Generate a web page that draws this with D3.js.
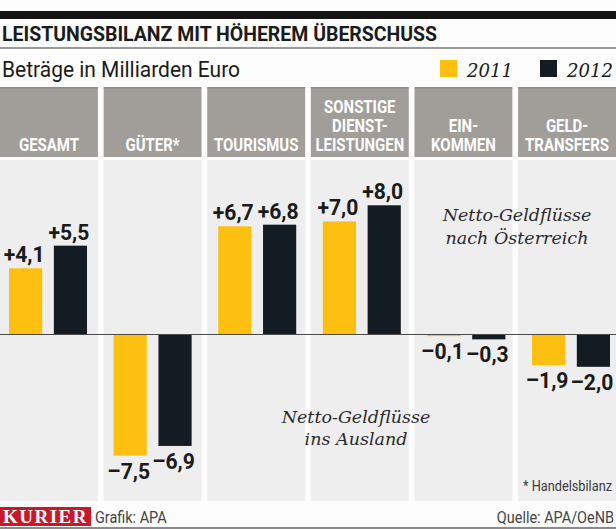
<!DOCTYPE html>
<html>
<head>
<meta charset="utf-8">
<script src="https://cdn.jsdelivr.net/npm/d3@7"></script>
<style>
  html, body { margin: 0; padding: 0; background: #fdfdfd; }
  svg { display: block; }
  .cond { font-family: "Roboto", "Liberation Sans", sans-serif; }
  .serif-it { font-family: "DejaVu Serif", "Liberation Serif", serif; font-style: italic; }
</style>
</head>
<body>
<div id="chart"></div>
<script>
// ---------- DATA ----------
const title = "LEISTUNGSBILANZ MIT HÖHEREM ÜBERSCHUSS";
const subtitle = "Beträge in Milliarden Euro";
const categories = ["GESAMT", "GÜTER*", "TOURISMUS", "SONSTIGE\nDIENST-\nLEISTUNGEN", "EIN-\nKOMMEN", "GELD-\nTRANSFERS"];
const seriesNames = ["2011", "2012"];
const values2011 = [4.1, -7.5, 6.7, 7.0, -0.1, -1.9];
const values2012 = [5.5, -6.9, 6.8, 8.0, -0.3, -2.0];
const annotationIn = ["Netto-Geldflüsse", "nach Österreich"];
const annotationOut = ["Netto-Geldflüsse", "ins Ausland"];
const footnote = "* Handelsbilanz";
const brand = "KURIER";
const credit = "Grafik: APA";
const source = "Quelle: APA/OeNB";

// ---------- STYLE ----------
const W = 616, H = 529;
const colors = { "2011": "#fdc010", "2012": "#121c22" };
const headerGray = "#a19e99";
const panelBg = "#efeeef";
const textDark = "#1b1b1b";

const svg = d3.select("#chart").append("svg").attr("width", W).attr("height", H);
svg.append("rect").attr("width", W).attr("height", H).attr("fill", "#fdfdfd");

// helper: horizontally condensed text
function condText(parent, x, y, str, o) {
  const g = parent.append("g").attr("transform", `translate(${x},${y}) scale(${o.sx || 0.85},1)`);
  return g.append("text").attr("class", "cond").attr("x", 0).attr("y", 0)
    .attr("text-anchor", o.anchor || "start").attr("font-size", o.size)
    .attr("font-weight", o.weight || "normal").attr("fill", o.fill || textDark).text(str);
}

// top rule + title
svg.append("rect").attr("x", 0).attr("y", 11).attr("width", W).attr("height", 8).attr("fill", "#151515");
svg.append("text").attr("class", "cond").attr("x", 2).attr("y", 41)
  .attr("font-size", 21).attr("font-weight", "bold").attr("fill", textDark)
  .attr("textLength", 435).attr("lengthAdjust", "spacingAndGlyphs").text(title);
svg.append("rect").attr("x", 0).attr("y", 47).attr("width", W).attr("height", 2).attr("fill", "#9a9a9a");
svg.append("text").attr("class", "cond").attr("x", 2).attr("y", 77)
  .attr("font-size", 22).attr("fill", textDark)
  .attr("textLength", 238).attr("lengthAdjust", "spacingAndGlyphs").text(subtitle);

// legend
const legX = d3.scalePoint().domain(seriesNames).range([440, 540]);
const leg = svg.append("g").selectAll("g").data(seriesNames).join("g")
  .attr("transform", d => `translate(${legX(d)},0)`);
leg.append("rect").attr("x", 0).attr("y", 60).attr("width", 17).attr("height", 17).attr("fill", d => colors[d]);
leg.append("text").attr("class", "serif-it").attr("x", 27).attr("y", 77)
  .attr("font-size", 19).attr("fill", textDark)
  .attr("textLength", 46).attr("lengthAdjust", "spacingAndGlyphs").text(d => d);

// ---------- SCALES ----------
const panelX = d3.scaleBand().domain(categories).range([0, W]).paddingInner(0.055).paddingOuter(0);
const groupX = d3.scaleBand().domain(categories).range([9, 610]).paddingInner(0.254).paddingOuter(0);
const barX = d3.scaleBand().domain(seriesNames).range([0, groupX.bandwidth()]).paddingInner(0.26).paddingOuter(0);
const y = d3.scaleLinear().domain([-8, 8]).range([463.7, 205.3]);

// panels
const panels = svg.append("g").selectAll("g").data(categories).join("g")
  .attr("transform", d => `translate(${panelX(d)},0)`);
panels.append("rect").attr("x", 0).attr("y", 160).attr("width", panelX.bandwidth()).attr("height", 341).attr("fill", panelBg);
panels.append("rect").attr("x", 0).attr("y", 88).attr("width", panelX.bandwidth()).attr("height", 69).attr("fill", headerGray);
panels.append("rect").attr("x", 0).attr("y", 87).attr("width", panelX.bandwidth()).attr("height", 1.5).attr("fill", "#8e8b86");
panels.each(function(d) {
  const lines = d.split("\n");
  const sel = d3.select(this);
  lines.forEach((ln, i) => {
    condText(sel, panelX.bandwidth() / 2, 150.5 - (lines.length - 1 - i) * 18.7, ln,
      { size: 18, weight: "bold", anchor: "middle", fill: "#ffffff", sx: 0.83 });
  });
});

// bars
const rows = categories.map((c, i) => ({ cat: c, vals: [
  { s: "2011", v: values2011[i] }, { s: "2012", v: values2012[i] } ] }));
const groups = svg.append("g").selectAll("g").data(rows).join("g")
  .attr("transform", d => `translate(${groupX(d.cat)},0)`);
groups.selectAll("rect").data(d => d.vals).join("rect")
  .attr("x", d => barX(d.s)).attr("width", barX.bandwidth())
  .attr("y", d => y(Math.max(0, d.v))).attr("height", d => Math.abs(y(d.v) - y(0)))
  .attr("fill", d => colors[d.s]);

// zero line
svg.append("line").attr("x1", 0).attr("x2", W).attr("y1", y(0)).attr("y2", y(0))
  .attr("stroke", "#4a4a4a").attr("stroke-width", 1.2);

// value labels
const fmt = v => (v > 0 ? "+" : "\u2013") + d3.format(".1f")(Math.abs(v)).replace(".", ",");
groups.each(function(d) {
  const g = d3.select(this);
  d.vals.forEach(b => {
    condText(g, barX(b.s) + barX.bandwidth() / 2 - 1.5,
      b.v >= 0 ? y(b.v) - 6 : y(b.v) + 23, fmt(b.v),
      { size: 22, weight: "bold", anchor: "middle", fill: textDark, sx: 0.96 });
  });
});

// annotations
const annIn = svg.append("text").attr("class", "serif-it").attr("text-anchor", "middle")
  .attr("font-size", 17.5).attr("fill", "#2a2a2a");
annIn.selectAll("tspan").data(annotationIn).join("tspan")
  .attr("x", 517).attr("y", (d, i) => 221 + i * 23).text(d => d);
const annOut = svg.append("text").attr("class", "serif-it").attr("text-anchor", "middle")
  .attr("font-size", 17.5).attr("fill", "#2a2a2a");
annOut.selectAll("tspan").data(annotationOut).join("tspan")
  .attr("x", 356).attr("y", (d, i) => 423 + i * 22).text(d => d);

// footnote
condText(svg, 612, 491, footnote, { size: 15, anchor: "end", fill: "#3a3a3a", sx: 0.85 });

// footer
svg.append("rect").attr("x", 0).attr("y", 507).attr("width", 91).attr("height", 19).attr("fill", "#c8192b");
svg.append("text").attr("x", 45.5).attr("y", 523).attr("text-anchor", "middle")
  .attr("font-family", "Liberation Serif, serif").attr("font-weight", "bold").attr("font-size", 19)
  .attr("fill", "#ffffff").attr("letter-spacing", 1.5).text(brand);
condText(svg, 95, 523, credit, { size: 17, fill: "#444", sx: 0.85 });
condText(svg, 614, 523, source, { size: 17, anchor: "end", fill: "#444", sx: 0.85 });
svg.append("rect").attr("x", 0).attr("y", 527).attr("width", W).attr("height", 2).attr("fill", "#8a8a8a");
</script>
</body>
</html>
